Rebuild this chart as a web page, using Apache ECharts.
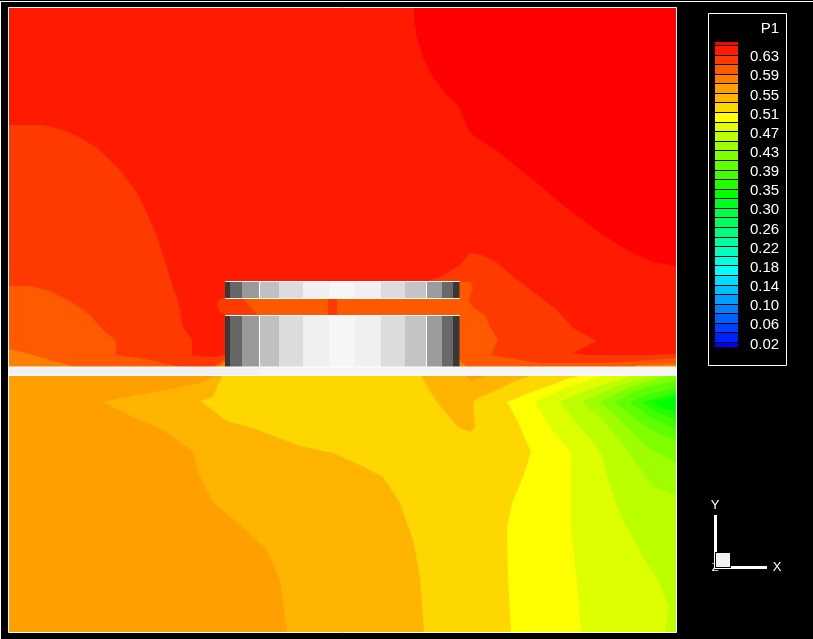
<!DOCTYPE html>
<html>
<head>
<meta charset="utf-8">
<style>html,body{margin:0;padding:0;background:#000}#c{width:813px;height:639px}</style>
<script src="https://cdn.jsdelivr.net/npm/echarts@6/dist/echarts.min.js"></script>
</head>
<body>
<div id="c"></div>
<script>
// Legend: contour levels (variable P1), bottom to top, and the band colours, top to bottom
const contourLevels = [0.02,0.0403,0.0607,0.081,0.1013,0.1217,0.142,0.1623,0.1827,0.203,0.2233,0.2437,0.264,0.2843,0.3047,0.325,0.3453,0.3657,0.386,0.4063,0.4267,0.447,0.4673,0.4877,0.508,0.5283,0.5487,0.569,0.5893,0.6097,0.63,0.6503];
const legendBottom = 0.0105, legendTop = 0.6577;
const bandColours = ['#ff0000','#ff1a00','#ff3a00','#ff5a00','#ff7f00','#ff9f00','#ffb400','#ffd700','#ffff00','#ddff00','#bbff00','#9fff00','#7fff00','#5fff00','#3fff00','#1fff00','#00ff00','#00ff20','#00ff40','#00ff60','#00ff80','#00ffa0','#00ffc0','#00ffe0','#00ffff','#00dfff','#00bfff','#009fff','#007fff','#005fff','#003fff','#001fff','#0000ff'];
const tickLabels = ['0.63','0.59','0.55','0.51','0.47','0.43','0.39','0.35','0.30','0.26','0.22','0.18','0.14','0.10','0.06','0.02'];
const tickLevels = [0.63,0.5893,0.5487,0.508,0.4673,0.4267,0.386,0.3453,0.3047,0.264,0.2233,0.1827,0.142,0.1013,0.0607,0.02];

// Contours above the wall (x, y along the plot axes)
const upperBase = [[9,8],[676,8],[676,367],[9,367]];
const upperDeepRed = [[414,8],[414,20],[417,37],[423,57],[433,77],[447,95],[459,107],[470,133],[500,153],[533,180],[567,208],[600,233],[627,250],[653,262],[676,266],[676,8]];
const upperLeft2 = [[9,125],[43,125],[60,129],[77,136],[97,148],[120,170],[137,193],[147,213],[157,237],[167,267],[173,288],[178,300],[183,327],[192,340],[192,355],[210,357],[225,355],[225,367],[9,367]];
const upperLeft3 = [[9,286],[30,286],[50,291],[73,303],[90,315],[103,330],[116,341],[116,355],[140,358],[167,364],[182,367],[9,367]];
const upperLeft4 = [[9,349],[30,354],[50,360],[76,367],[9,367]];
const upperNear3 = [[213,367],[222,361],[225,359],[225,367]];
const upperNear4 = [[218,367],[225,362],[225,367]];
const upperRight2 = [[427,281],[440,277],[460,265],[470,253],[482,255],[497,263],[520,282],[540,297],[557,310],[573,328],[597,341],[573,353],[585,355],[653,355],[676,354],[676,367],[459,367],[459,281]];
const upperRight3 = [[459,282],[470,282],[473,288],[468,300],[473,307],[485,315],[490,327],[498,340],[491,355],[520,360],[540,363],[607,363],[637,361],[676,358],[676,367],[459,367]];
const upperRight4a = [[459,360],[467,367],[459,367]];
const upperRight4b = [[633,367],[637,365],[676,364],[676,367]];
const gapPatch2 = [[225,297],[218,300],[217,305],[220,312],[225,315],[459,315],[459,297]];
const gapMiddle3 = [[243,298],[460,298],[460,316],[258,316]];
const gapCentre2 = [[328,298],[337,298],[337,316],[328,316]];

// Contours below the wall
const lowerBase = [[9,376],[676,376],[676,632],[9,632]];
const lower6 = [[215,376],[200,383],[190,385],[160,391],[133,396],[103,402],[133,417],[163,430],[193,452],[200,477],[213,502],[240,525],[267,550],[280,580],[287,632],[676,632],[676,376]];
const lower7 = [[222,376],[213,397],[201,401],[226,421],[253,428],[300,446],[333,453],[360,465],[383,477],[400,503],[413,540],[420,577],[424,632],[676,632],[676,376]];
const lowerPocket6 = [[421,376],[437,402],[458,427],[470,432],[475,427],[473,402],[480,397],[493,392],[513,382],[530,376]];
const lowerPocket5 = [[466,376],[471,381],[480,378],[485,376]];
const lower8 = [[580,376],[570,378],[537,390],[507,402],[517,420],[531,452],[523,477],[512,503],[507,527],[508,577],[511,632],[676,632],[676,376]];
const lower9 = [[603,376],[567,387],[535,402],[550,427],[571,452],[571,530],[577,583],[581,632],[676,632],[676,376]];
const lower10 = [[630,376],[587,390],[560,402],[580,427],[601,452],[608,480],[623,520],[643,557],[658,580],[669,607],[665,632],[676,632],[676,376]];
const lower11 = [[650,376],[607,390],[582,402],[603,420],[627,450],[653,487],[676,495],[676,376]];
const lower12 = [[667,376],[623,390],[600,402],[623,423],[647,447],[676,463],[676,376]];
const lower13 = [[676,380],[637,390],[615,402],[637,420],[657,433],[676,440]];
const lower14 = [[676,387],[647,395],[630,402],[650,417],[676,430]];
const lower15 = [[676,393],[657,398],[642,402],[657,412],[676,420]];
const lower16 = [[676,396],[652,402],[663,408],[676,412]];

// Body in the middle: column edges and their greys
const bodyEdges = [225,230,242,259,279,303,329,355,381,405,427,442,453,459.5];
const bodyGreys = ['#383838','#666666','#999999','#c0c0c0','#dcdcdc','#f0f0f0','#f6f6f6','#f0f0f0','#dcdcdc','#c4c4c4','#9c9c9c','#686868','#383838'];
const bodyRows = [[282,298],[316,367]];
const bodyRules = [[225,460,281,282],[225,460,298,299],[225,460,315,316],[259,260,282,298],[259,260,316,367],[426,427,282,298],[426,427,316,367]];
const wallParts = [[9,259,367,375,'#f1f1f1'],[259,676,367,375,'#f5f5f5'],[9,676,366.5,367.5,'#ffffff'],[9,676,375,376,'#ffffff']];

const layers = [
  [upperBase,1],[upperDeepRed,0],[upperLeft2,2],[upperLeft3,3],[upperLeft4,4],[upperNear3,3],[upperNear4,4],
  [upperRight2,2],[upperRight3,3],[upperRight4a,4],[upperRight4b,4],[gapPatch2,2],[gapMiddle3,3],[gapCentre2,2],
  [lowerBase,5],[lower6,6],[lower7,7],[lowerPocket6,6],[lowerPocket5,5],[lower8,8],[lower9,9],[lower10,10],
  [lower11,11],[lower12,12],[lower13,13],[lower14,14],[lower15,15],[lower16,16]
];

const bodyRects = [];
bodyRows.forEach(r => bodyGreys.forEach((g, i) => bodyRects.push([bodyEdges[i], bodyEdges[i+1], r[0], r[1], g])));
bodyRules.forEach(r => bodyRects.push([r[0], r[1], r[2], r[3], '#ffffff']));
const allRects = bodyRects.concat(wallParts);

const edgesTopDown = [legendTop].concat(contourLevels.slice().reverse(), [legendBottom]);
const legendBands = bandColours.map((c, i) => [edgesTopDown[i], edgesTopDown[i+1], i]);

const white = '#ffffff';
const txt = (text, x, y, size) => ({type:'text', x, y, silent:true,
  style:{text, fill:white, font:size+'px "Liberation Sans"', textAlign:'center', textVerticalAlign:'middle'}});
const rect = (x, y, width, height, fill) => ({type:'rect', silent:true, shape:{x, y, width, height}, style:{fill}});

const chart = echarts.init(document.getElementById('c'), null, {renderer:'canvas'});
chart.setOption({
  animation:false,
  backgroundColor:'#000000',
  grid:[
    {left:9, top:8, width:667, height:624, show:false},
    {left:715, top:42, width:23, height:305, show:false}
  ],
  xAxis:[
    {gridIndex:0, type:'value', min:9, max:676, show:false},
    {gridIndex:1, type:'value', min:0, max:1, show:false}
  ],
  yAxis:[
    {gridIndex:0, type:'value', min:8, max:632, inverse:true, show:false},
    {gridIndex:1, type:'value', min:legendBottom, max:legendTop, position:'right',
      axisLine:{show:false}, axisTick:{show:false}, splitLine:{show:false},
      axisLabel:{show:true, customValues:tickLevels, margin:12, color:white, fontSize:15,
        fontFamily:'Liberation Sans', align:'left', verticalAlign:'top', lineHeight:4,
        formatter:v => tickLabels[tickLevels.indexOf(v)]}}
  ],
  series:[
    {type:'custom', xAxisIndex:0, yAxisIndex:0, silent:true, clip:true,
      data:layers.map((l,i)=>[i]),
      renderItem:(p, api) => {
        const l = layers[api.value(0)];
        return {type:'polygon', shape:{points:l[0].map(q=>api.coord(q))}, style:{fill:bandColours[l[1]]}};
      }},
    {type:'custom', xAxisIndex:0, yAxisIndex:0, silent:true, clip:true,
      data:allRects.map((r,i)=>[i]),
      renderItem:(p, api) => {
        const r = allRects[api.value(0)];
        const a = api.coord([r[0], r[2]]), b = api.coord([r[1], r[3]]);
        return {type:'rect', shape:{x:a[0], y:a[1], width:b[0]-a[0], height:b[1]-a[1]}, style:{fill:r[4]}};
      }},
    {type:'custom', xAxisIndex:1, yAxisIndex:1, silent:true, clip:false,
      data:legendBands,
      renderItem:(p, api) => {
        const a = api.coord([0, api.value(0)]), b = api.coord([1, api.value(1)]);
        const y0 = api.value(2) === 0 ? Math.round(a[1]) : Math.floor(a[1]) + 1;
        const y1 = api.value(2) === 32 ? Math.round(b[1]) : Math.floor(b[1]);
        return {type:'rect', shape:{x:a[0], y:y0, width:b[0]-a[0], height:y1-y0}, style:{fill:bandColours[api.value(2)]}};
      }}
  ],
  graphic:[
    rect(1,1,812,1,white),
    rect(0,1,1,638,white),
    {type:'rect', silent:true, shape:{x:8.5,y:7.5,width:668,height:625}, style:{fill:null, stroke:white, lineWidth:1}},
    {type:'rect', silent:true, shape:{x:708.5,y:13.5,width:78,height:352}, style:{fill:null, stroke:white, lineWidth:1}},
    txt('P1', 770, 29, 15),
    rect(714,515,3,54,white),
    rect(714,566,53,3,white),
    txt('Z', 715, 568, 11),
    rect(715,552,16,16,'#000000'),
    rect(716,553,14,14,'#f2f2f2'),
    txt('Y', 715, 505, 13),
    txt('X', 777, 567, 13)
  ]
});
</script>
</body>
</html>
